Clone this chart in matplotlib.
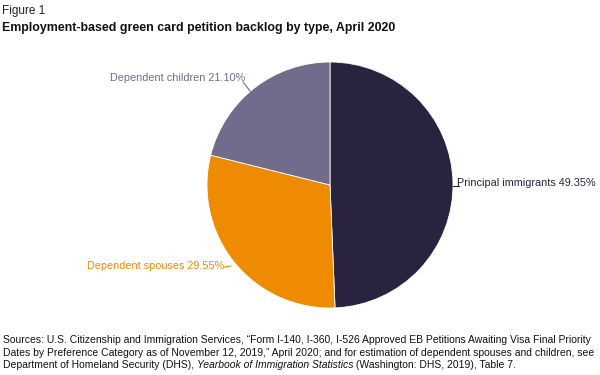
import matplotlib.pyplot as plt

labels = ["Principal immigrants", "Dependent spouses", "Dependent children"]
shares = [49.35, 29.55, 21.10]
colors = ["#29233f", "#ee8b00", "#716b8c"]

W, H = 600, 375
fig = plt.figure(figsize=(6, 3.75), dpi=100)
fig.patch.set_facecolor("white")

def fx(px):
    return px / W

def fy(py):
    return 1 - py / H

font = "Liberation Sans"

# pie axes, centred about (330, 185) px with radius ~123 px
cx, cy, r = 330, 185, 123
ax = fig.add_axes([fx(cx - r), fy(cy + r), 2 * r / W, 2 * r / H])
ax.pie(shares, colors=colors, startangle=90, counterclock=False,
       wedgeprops=dict(edgecolor="white", linewidth=0.6))
ax.set_xlim(-1, 1)
ax.set_ylim(-1, 1)
ax.set_aspect("auto")
ax.axis("off")

fig.text(fx(2), fy(11), "Figure 1", fontsize=8.5, color="#222222",
         family=font, va="center")
fig.text(fx(2), fy(28), "Employment-based green card petition backlog by type, April 2020",
         fontsize=8.9, fontweight="bold", color="#111111",
         family=font, va="center")

# labels with short leader lines
lab_fs = 7.8
fig.text(fx(457), fy(183), f"{labels[0]} {shares[0]:.2f}%", fontsize=lab_fs,
         color=colors[0], family=font, va="center", ha="left")
fig.add_artist(plt.Line2D([fx(453), fx(459)], [fy(186), fy(186)], color=colors[0], lw=0.8))

fig.text(fx(224), fy(266), f"{labels[1]} {shares[1]:.2f}%", fontsize=lab_fs,
         color=colors[1], family=font, va="center", ha="right")
fig.add_artist(plt.Line2D([fx(224), fx(231)], [fy(267), fy(266)], color=colors[1], lw=0.8))

fig.text(fx(245), fy(78), f"{labels[2]} {shares[2]:.2f}%", fontsize=lab_fs,
         color=colors[2], family=font, va="center", ha="right")
fig.add_artist(plt.Line2D([fx(243), fx(250)], [fy(82), fy(91)], color=colors[2], lw=0.8))

# source note
src_fs = 7.45
src_lines = [
    "Sources: U.S. Citizenship and Immigration Services, \u201cForm I-140, I-360, I-526 Approved EB Petitions Awaiting Visa Final Priority",
    "Dates by Preference Category as of November 12, 2019,\u201d April 2020; and for estimation of dependent spouses and children, see",
]
for i, line in enumerate(src_lines):
    fig.text(fx(3), fy(340 + 12.5 * i), line, fontsize=src_fs, color="#111111",
             family=font, va="center", ha="left")

# last line has an italic title inside it
parts = [("Department of Homeland Security (DHS), ", "normal"),
         ("Yearbook of Immigration Statistics", "italic"),
         (" (Washington: DHS, 2019), Table 7.", "normal")]
renderer = fig.canvas.get_renderer()
x0 = 3
for txt, style in parts:
    t = fig.text(fx(x0), fy(365), txt, fontsize=src_fs, color="#111111",
                 family=font, style=style, va="center", ha="left")
    x0 += t.get_window_extent(renderer).width

fig.savefig("out.png", dpi=100)
